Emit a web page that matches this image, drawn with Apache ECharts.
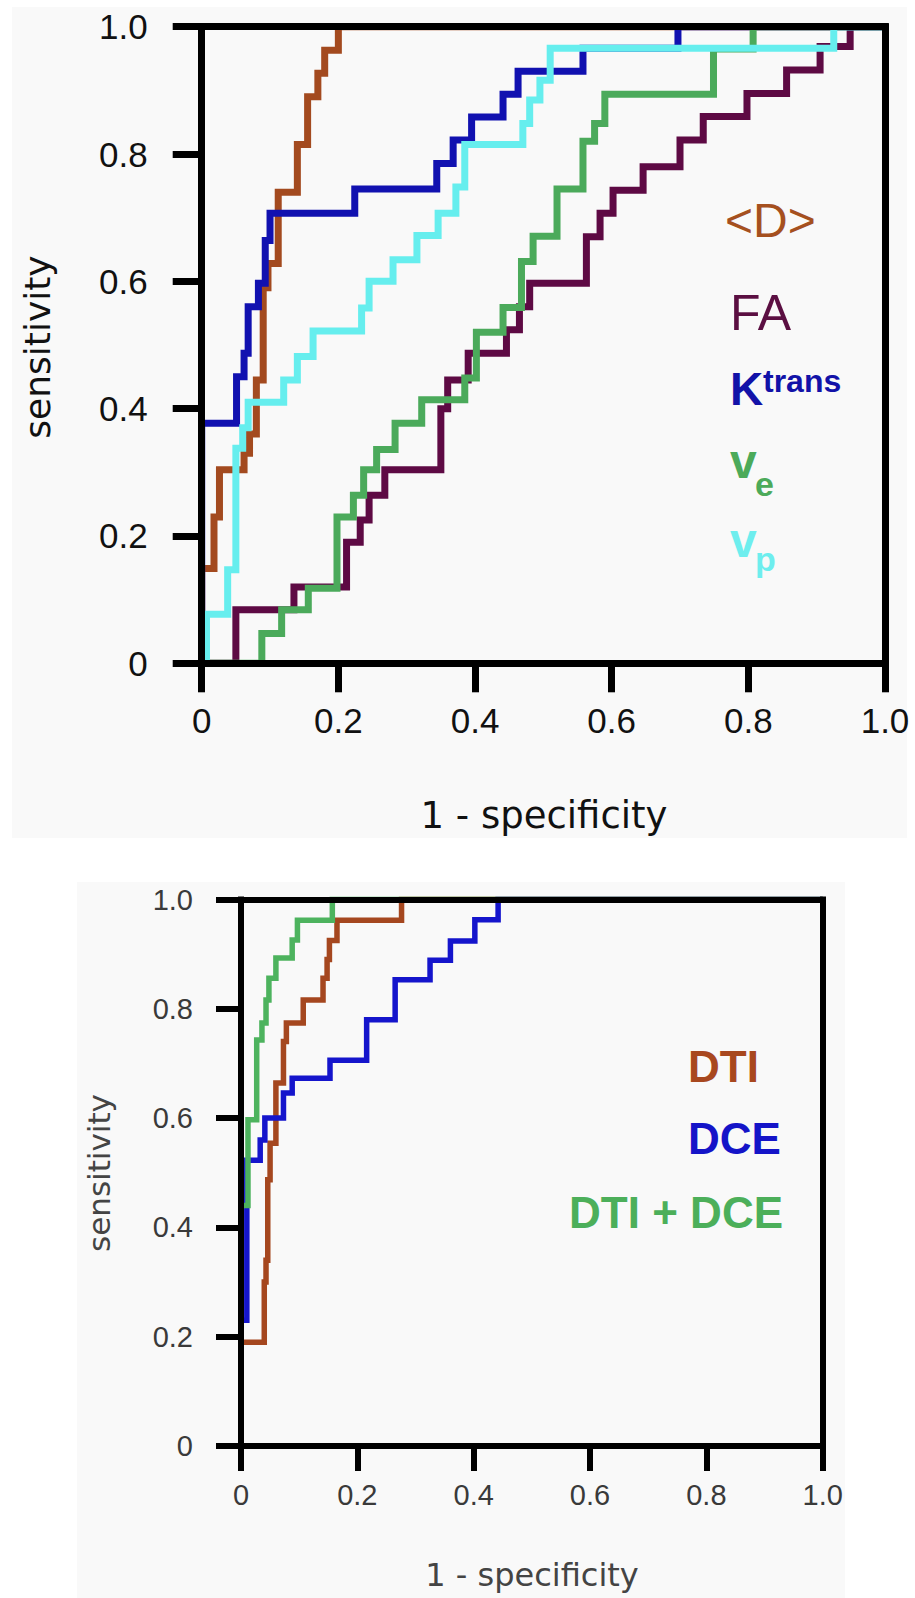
<!DOCTYPE html>
<html><head><meta charset="utf-8">
<script src="https://cdn.jsdelivr.net/npm/echarts@6/dist/echarts.min.js"></script>
<style>html,body{margin:0;padding:0;background:#fff}#c{width:915px;height:1598px}</style>
</head><body><div id="c"></div>
<script>
// ---- tick labels ----
const tickLabels = ['0', '0.2', '0.4', '0.6', '0.8', '1.0'];

// ---- top panel ROC curves: (1 - specificity) where the curve rises, and the sensitivity it rises to ----
const dFpr   = [0, 0,     0.018, 0.026, 0.062, 0.07, 0.08,  0.09, 0.097, 0.112, 0.14,  0.155, 0.17,  0.18,  0.2, 1];
const dSens  = [0, 0.149, 0.23,  0.304, 0.33,  0.36, 0.445, 0.59, 0.628, 0.74,  0.815, 0.89,  0.927, 0.963, 1,   1];

const faFpr  = [0, 0.05,  0.135, 0.212, 0.232, 0.245, 0.268, 0.35, 0.36,  0.39,  0.446, 0.465, 0.48,  0.563, 0.583, 0.602, 0.646, 0.70,  0.734, 0.798, 0.856, 0.905, 0.949, 1];
const faSens = [0, 0.084, 0.12,  0.19,  0.225, 0.264, 0.304, 0.40, 0.445, 0.487, 0.524, 0.56,  0.597, 0.67,  0.707, 0.743, 0.78,  0.822, 0.859, 0.895, 0.932, 0.969, 1,     1];

const ktFpr  = [0, 0,     0.051, 0.062, 0.068, 0.083, 0.093, 0.1,   0.224, 0.344, 0.368, 0.395, 0.441, 0.463, 0.558, 0.697, 1];
const ktSens = [0, 0.377, 0.45,  0.487, 0.56,  0.597, 0.664, 0.707, 0.745, 0.785, 0.822, 0.858, 0.894, 0.93,  0.966, 1,     1];

const veFpr  = [0, 0.088, 0.117, 0.156, 0.198, 0.222, 0.237, 0.256, 0.283, 0.322, 0.385, 0.402, 0.441, 0.468, 0.485, 0.52,  0.558, 0.575, 0.59,  0.749, 0.807, 1];
const veSens = [0, 0.047, 0.084, 0.118, 0.23,  0.264, 0.304, 0.336, 0.377, 0.414, 0.448, 0.52,  0.559, 0.631, 0.671, 0.745, 0.82,  0.848, 0.894, 0.965, 1,     1];

const vpFpr  = [0, 0.007, 0.038, 0.05,  0.06, 0.068, 0.12,  0.14,  0.163, 0.234, 0.245, 0.28,  0.315, 0.346, 0.372, 0.385, 0.47,  0.48,  0.495, 0.51,  0.925, 1];
const vpSens = [0, 0.077, 0.147, 0.338, 0.37, 0.41,  0.445, 0.482, 0.522, 0.558, 0.6,   0.634, 0.672, 0.707, 0.748, 0.815, 0.848, 0.885, 0.916, 0.966, 1,     1];

// ---- bottom panel ROC curves ----
const dtiFpr  = [0, 0,    0.04, 0.043, 0.046, 0.05,  0.06,  0.073, 0.078, 0.107, 0.141, 0.148, 0.152, 0.165, 0.276, 1];
const dtiSens = [0, 0.19, 0.30, 0.34,  0.487, 0.554, 0.664, 0.74,  0.774, 0.816, 0.856, 0.89,  0.925, 0.962, 1,     1];

const dceFpr  = [0, 0,    0.01,  0.033, 0.041, 0.073, 0.088, 0.153, 0.216, 0.265, 0.325, 0.36,  0.402, 0.442, 1];
const dceSens = [0, 0.23, 0.523, 0.56,  0.6,   0.646, 0.673, 0.706, 0.78,  0.853, 0.889, 0.924, 0.963, 1,     1];

const bothFpr  = [0, 0,    0.012, 0.027, 0.036, 0.043, 0.048, 0.06,  0.088, 0.097, 0.157, 1];
const bothSens = [0, 0.44, 0.597, 0.743, 0.774, 0.816, 0.856, 0.893, 0.926, 0.962, 1,     1];

function pts(f, s) { return f.map((x, i) => [x, s[i]]); }
function fmt(v) { return tickLabels[Math.round(v * 5)]; }

function roc(name, f, s, color, width, g) {
  return {
    name, type: 'line', xAxisIndex: g * 2, yAxisIndex: g * 2, data: pts(f, s),
    step: 'end', showSymbol: false, symbol: 'none', clip: false, silent: true,
    lineStyle: { color, width, join: 'miter', cap: 'butt' }, itemStyle: { color }
  };
}

function mainX(g, lw, tl, fs, margin, col) {
  return { type: 'value', gridIndex: g, position: 'bottom', min: 0, max: 1, interval: 0.2, z: 10,
    axisLine: { show: true, lineStyle: { color: '#000', width: lw, cap: 'square' } },
    axisTick: { show: true, inside: false, length: tl, lineStyle: { color: '#000', width: lw } },
    axisLabel: { show: true, margin, fontSize: fs, fontFamily: 'Liberation Sans', color: col, formatter: fmt, showMinLabel: true, showMaxLabel: true },
    splitLine: { show: false } };
}
function mainY(g, lw, tl, fs, margin, col) {
  return { type: 'value', gridIndex: g, position: 'left', min: 0, max: 1, interval: 0.2, z: 10,
    axisLine: { show: true, lineStyle: { color: '#000', width: lw, cap: 'square' } },
    axisTick: { show: true, inside: false, length: tl, lineStyle: { color: '#000', width: lw } },
    axisLabel: { show: true, margin, fontSize: fs, fontFamily: 'Liberation Sans', color: col, formatter: fmt, showMinLabel: true, showMaxLabel: true },
    splitLine: { show: false } };
}
function border(g, pos, lw) {
  return { type: 'value', gridIndex: g, position: pos, min: 0, max: 1, z: 10,
    axisLine: { show: true, onZero: false, lineStyle: { color: '#000', width: lw, cap: 'square' } },
    axisTick: { show: false }, axisLabel: { show: false }, splitLine: { show: false } };
}

function txt(text, x, y, size, color, opts) {
  opts = opts || {};
  return { type: 'text', x, y, rotation: opts.rot || 0, z: 20,
    style: { text, fontSize: size, fontFamily: opts.family || 'Liberation Sans', fontWeight: opts.weight || 'normal',
      fill: color, align: opts.align || 'left', verticalAlign: 'middle' } };
}

const chart = echarts.init(document.getElementById('c'), null, { renderer: 'svg', width: 915, height: 1598 });
chart.setOption({
  animation: false,
  backgroundColor: '#ffffff',
  grid: [
    { left: 201.7, top: 26.7, width: 683.3, height: 636.6, containLabel: false },
    { left: 241, top: 899.5, width: 581.7, height: 546.5, containLabel: false }
  ],
  xAxis: [
    mainX(0, 7, 29, 35, 40, '#111'),
    border(0, 'top', 7),
    mainX(1, 6, 25, 29, 34, '#3a3a3a'),
    border(1, 'top', 6)
  ],
  yAxis: [
    mainY(0, 7, 29, 35, 54, '#111'),
    border(0, 'right', 7),
    mainY(1, 6, 25, 29, 48, '#3a3a3a'),
    border(1, 'right', 6)
  ],
  graphic: [
    { type: 'rect', z: -10, shape: { x: 12, y: 7, width: 895, height: 831 }, style: { fill: '#f9f9f9' }, silent: true },
    { type: 'rect', z: -10, shape: { x: 77, y: 882, width: 768, height: 716 }, style: { fill: '#f9f9f9' }, silent: true },
    txt('sensitivity', 37, 347, 36, '#111', { family: 'DejaVu Sans', align: 'center', rot: Math.PI / 2 }),
    txt('1 - specificity', 544, 815, 37, '#111', { family: 'DejaVu Sans', align: 'center' }),
    txt('<D>', 725, 220, 48, '#A5501F'),
    txt('FA', 730, 313, 50, '#5B0F42'),
    txt('K', 730, 389, 46, '#1212A8', { weight: 'bold' }),
    txt('trans', 763, 381, 32, '#1212A8', { weight: 'bold' }),
    txt('v', 730, 461, 48, '#4CAA5A', { weight: 'bold' }),
    txt('e', 755, 484, 34, '#4CAA5A', { weight: 'bold' }),
    txt('v', 730, 540, 48, '#6EEEEE', { weight: 'bold' }),
    txt('p', 755, 559, 34, '#6EEEEE', { weight: 'bold' }),
    txt('sensitivity', 99, 1173, 31, '#444', { family: 'DejaVu Sans', align: 'center', rot: Math.PI / 2 }),
    txt('1 - specificity', 532, 1575, 32, '#444', { family: 'DejaVu Sans', align: 'center' }),
    txt('DTI', 688, 1066, 44, '#A8481F', { weight: 'bold' }),
    txt('DCE', 688, 1138, 44, '#1414C8', { weight: 'bold' }),
    txt('DTI + DCE', 783, 1212, 44, '#4CAF5A', { weight: 'bold', align: 'right' })
  ],
  series: [
    roc('<D>', dFpr, dSens, '#A34A1F', 7, 0),
    roc('FA', faFpr, faSens, '#5E0A44', 7, 0),
    roc('Ktrans', ktFpr, ktSens, '#1111B0', 7, 0),
    roc('ve', veFpr, veSens, '#4BAA5B', 7, 0),
    roc('vp', vpFpr, vpSens, '#66EEEE', 7, 0),
    roc('DTI', dtiFpr, dtiSens, '#A5471F', 5.5, 1),
    roc('DCE', dceFpr, dceSens, '#1515CC', 5.5, 1),
    roc('DTI + DCE', bothFpr, bothSens, '#4DB35E', 5.5, 1)
  ]
});
</script>
</body></html>
